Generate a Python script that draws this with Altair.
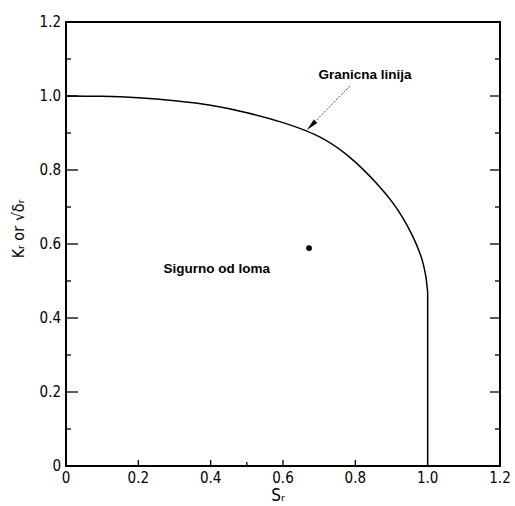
import altair as alt
import pandas as pd

# Limit curve
sr = [0.0, 0.1, 0.2, 0.3, 0.4, 0.5, 0.6, 0.666, 0.7, 0.78, 0.82, 0.864,
      0.9, 0.92, 0.94, 0.96, 0.975, 0.988, 0.996, 1.0]
kr = [1.0, 0.999, 0.995, 0.987, 0.975, 0.955, 0.928, 0.905, 0.89, 0.838,
      0.803, 0.758, 0.716, 0.688, 0.656, 0.618, 0.584, 0.545, 0.505, 0.47]
# Vertical cut-off at Sr = 1
cut_sr = [1.0, 1.0]
cut_kr = [0.47, 0.0]

# Assessment point
pt_sr = [0.672]
pt_kr = [0.589]

# Tick values and labels
major_ticks = [0.0, 0.2, 0.4, 0.6, 0.8, 1.0, 1.2]
tick_labels = ["0", "0.2", "0.4", "0.6", "0.8", "1.0", "1.2"]
minor_ticks = [0.1, 0.3, 0.5, 0.7, 0.9, 1.1]
bottom_major = [0.2, 0.4, 0.6, 0.8]
bottom_minor = [0.5]
x_title = "Sᵣ"
y_title = "Kᵣ or √δᵣ"

# Annotations
labels_text = ["Granicna linija", "Sigurno od loma"]
labels_sr = [0.827, 0.417]
labels_kr = [1.057, 0.532]
arrow_tail = (0.785, 1.027)
arrow_head = (0.678, 0.920)

W, H = 434, 444
xs = alt.Scale(domain=[0, 1.2], nice=False, zero=False)
ys = alt.Scale(domain=[0, 1.2], nice=False, zero=False)
FONT = "Liberation Sans Narrow, DejaVu Sans Condensed, Liberation Sans, sans-serif"

curve = pd.DataFrame({"Sr": sr, "Kr": kr})
cut = pd.DataFrame({"Sr": cut_sr, "Kr": cut_kr})
ticks_df = pd.DataFrame({"v": major_ticks, "lab": tick_labels})

X = lambda f: alt.X(f, scale=xs, axis=None)
Y = lambda f: alt.Y(f, scale=ys, axis=None)

line = alt.Chart(curve).mark_line(color="black", strokeWidth=1.5,
                                  interpolate="monotone").encode(
    x=X("Sr:Q"), y=Y("Kr:Q"))

cut_line = alt.Chart(cut).mark_line(color="black", strokeWidth=1.5).encode(
    x=X("Sr:Q"), y=Y("Kr:Q"))

pts = alt.Chart(pd.DataFrame({"Sr": pt_sr, "Kr": pt_kr})).mark_circle(
    color="black", size=34, opacity=1).encode(x=X("Sr:Q"), y=Y("Kr:Q"))

txt = alt.Chart(pd.DataFrame({"t": labels_text, "Sr": labels_sr, "Kr": labels_kr})).mark_text(
    font="Liberation Sans", fontWeight="bold", fontSize=13.5, color="black").encode(
    x=X("Sr:Q"), y=Y("Kr:Q"), text="t:N")

arrow_df = pd.DataFrame({"x1": [arrow_tail[0]], "y1": [arrow_tail[1]],
                         "x2": [arrow_head[0]], "y2": [arrow_head[1]]})
arrow_line = alt.Chart(arrow_df).mark_rule(color="#555555", strokeWidth=1,
                                           strokeDash=[2, 1.5]).encode(
    x=X("x1:Q"), y=Y("y1:Q"), x2="x2:Q", y2="y2:Q")
arrow_tip = alt.Chart(arrow_df).mark_point(
    shape="M0,-1L0.4,1L-0.4,1Z", filled=True, color="black", size=150,
    angle=225, opacity=1).encode(x=X("x2:Q"), y=Y("y2:Q"))

def yticks(vals, x0, x1):
    return alt.Chart(pd.DataFrame({"v": vals})).mark_rule(color="black", strokeWidth=1.3).encode(
        y=Y("v:Q"), x=alt.value(x0), x2=alt.value(x1))

def xticks(vals, length):
    return alt.Chart(pd.DataFrame({"v": vals})).mark_rule(color="black", strokeWidth=1.3).encode(
        x=X("v:Q"), y=alt.value(H), y2=alt.value(H - length))

ylabels = alt.Chart(ticks_df).mark_text(
    font=FONT, fontSize=15, color="black", align="right", baseline="middle").encode(
    y=Y("v:Q"), x=alt.value(-5), text="lab:N")
xlabels = alt.Chart(ticks_df).mark_text(
    font=FONT, fontSize=15, color="black", align="center", baseline="middle").encode(
    x=X("v:Q"), y=alt.value(H + 12), text="lab:N")

xtitle = alt.Chart(pd.DataFrame({"t": [x_title]})).mark_text(
    font=FONT, fontSize=17, color="black", align="center", baseline="middle").encode(
    x=alt.value(212), y=alt.value(H + 30), text="t:N")
ytitle = alt.Chart(pd.DataFrame({"t": [y_title]})).mark_text(
    font=FONT, fontSize=16, color="black", align="center", baseline="middle",
    angle=270).encode(
    x=alt.value(-47), y=alt.value(207), text="t:N")

chart = alt.layer(
    line, cut_line,
    yticks(major_ticks, 0, 12), yticks(minor_ticks, 0, 5),
    yticks(major_ticks, W, W - 10), yticks(minor_ticks, W, W - 5),
    xticks(bottom_major, 6), xticks(bottom_minor, 4),
    arrow_line, arrow_tip, pts, txt, ylabels, xlabels, xtitle, ytitle,
).properties(
    width=W, height=H, autosize="none", background="white",
    padding={"left": 66, "top": 22, "right": 15, "bottom": 40},
).configure_view(stroke="black", strokeWidth=2)

chart.save("out.html", embed_options={"renderer": "svg", "actions": False})
